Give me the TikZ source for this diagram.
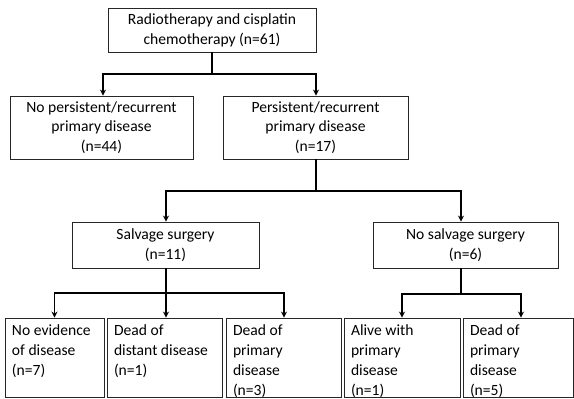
\documentclass[tikz,border=0pt]{standalone}
\usepackage{fontspec}
\setmainfont{Carlito}
\usetikzlibrary{arrows.meta}
\begin{document}
\begin{tikzpicture}[x=1pt,y=1pt,
  box/.style={draw=black!85, line width=0.9pt, inner sep=0pt, align=center,
    font=\fontsize{15.6}{19.8}\selectfont},
  conn/.style={draw=black, line width=1.3pt, -{Stealth[length=6pt,width=6pt]}},
  plain/.style={draw=black, line width=1.3pt}]
\useasboundingbox (0,0) rectangle (574,-399);
\newcommand{\btxt}[2]{\parbox[c][71pt][t]{#1pt}{\raggedright\strut #2}}
% top level
\node[box, minimum width=208pt, minimum height=44pt] (top) at (212,-30)
  {Radiotherapy and cisplatin\\chemotherapy (n=61)};
\node[box, minimum width=183pt, minimum height=63pt] (nopr) at (101.5,-127.5)
  {No persistent/recurrent\\primary disease\\(n=44)};
\node[box, minimum width=185pt, minimum height=63pt] (pr) at (315.5,-127.5)
  {Persistent/recurrent\\primary disease\\(n=17)};
\node[box, minimum width=187pt, minimum height=46pt] (sal) at (165.5,-245)
  {Salvage surgery\\(n=11)};
\node[box, minimum width=185pt, minimum height=46pt] (nosal) at (465.5,-245)
  {No salvage surgery\\(n=6)};
% bottom row
\node[box, minimum width=99pt, minimum height=79pt] (b1) at (54.5,-357.5)
  {\btxt{85}{No evidence\\of disease\\(n=7)}};
\node[box, minimum width=115pt, minimum height=79pt] (b2) at (164.5,-357.5)
  {\btxt{101}{Dead of\\distant disease\\(n=1)}};
\node[box, minimum width=115pt, minimum height=79pt] (b3) at (283.5,-357.5)
  {\btxt{101}{Dead of\\primary\\disease\\(n=3)}};
\node[box, minimum width=116pt, minimum height=79pt] (b4) at (402,-357.5)
  {\btxt{102}{Alive with\\primary\\disease\\(n=1)}};
\node[box, minimum width=110pt, minimum height=79pt] (b5) at (518,-357.5)
  {\btxt{96}{Dead of\\primary\\disease\\(n=5)}};
% junctions
\coordinate (j1) at (212,-74);
\coordinate (j2) at (316,-191);
\coordinate (j3) at (166,-293);
\coordinate (j4) at (461,-294);
\coordinate (a1) at (103,-74);
\coordinate (a2) at (316,-74);
\coordinate (a3) at (166,-191);
\coordinate (a4) at (461,-191);
\coordinate (a5) at (54.5,-293);
\coordinate (a6) at (284,-293);
\coordinate (a7) at (402,-294);
\coordinate (a8) at (521,-294);
% connectors
\draw[plain] (top.south -| j1) -- (j1);
\draw[conn] (j1) -- (a1) -- (a1 |- nopr.north);
\draw[conn] (j1) -- (a2) -- (a2 |- pr.north);
\draw[plain] (pr.south -| j2) -- (j2);
\draw[conn] (j2) -- (a3) -- (a3 |- sal.north);
\draw[conn] (j2) -- (a4) -- (a4 |- nosal.north);
\draw[plain] (sal.south -| j3) -- (j3);
\draw[conn] (j3) -- (a5) -- (a5 |- b1.north);
\draw[conn] (j3) -- (j3 |- b2.north);
\draw[conn] (j3) -- (a6) -- (a6 |- b3.north);
\draw[plain] (nosal.south -| j4) -- (j4);
\draw[conn] (j4) -- (a7) -- (a7 |- b4.north);
\draw[conn] (j4) -- (a8) -- (a8 |- b5.north);
\end{tikzpicture}
\end{document}
